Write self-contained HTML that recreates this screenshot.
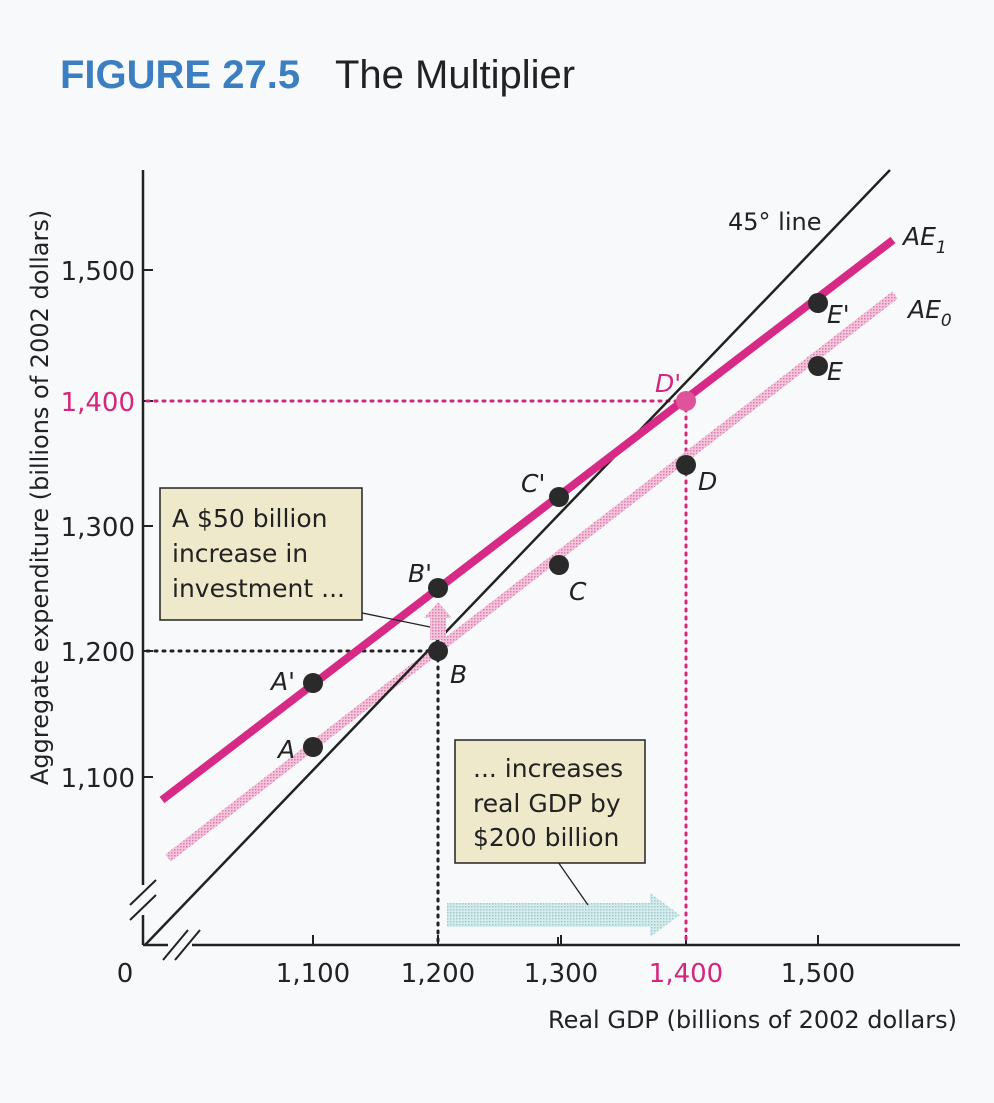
<!DOCTYPE html>
<html><head><meta charset="utf-8"><style>
html,body{margin:0;padding:0;background:#f7f9fa;}
svg{display:block;font-family:"DejaVu Sans","Liberation Sans",sans-serif;}
</style></head><body>
<svg width="994" height="1103" viewBox="0 0 994 1103" xmlns="http://www.w3.org/2000/svg">
<defs>
<pattern id="pk" width="3" height="3" patternUnits="userSpaceOnUse"><rect width="3" height="3" fill="#f3c6dc"/><rect width="1.5" height="1.5" fill="#e07ab0"/></pattern>
<pattern id="tl" width="3" height="3" patternUnits="userSpaceOnUse"><rect width="3" height="3" fill="#d6ecec"/><rect width="1.5" height="1.5" fill="#9fcccc"/></pattern>
</defs>
<rect width="994" height="1103" fill="#f7f9fa"/>
<text x="60" y="88" font-size="40" font-weight="bold" fill="#3b7fc2" font-family="Liberation Sans, sans-serif">FIGURE 27.5</text>
<text x="335" y="88" font-size="40" fill="#222" font-family="Liberation Sans, sans-serif">The Multiplier</text>

<line x1="143" y1="170" x2="143" y2="945" stroke="#222" stroke-width="2.5"/>
<line x1="143" y1="945" x2="960" y2="945" stroke="#222" stroke-width="2.5"/>
<g stroke="#222" stroke-width="2">
<line x1="143" y1="270" x2="153" y2="270"/><line x1="143" y1="401" x2="153" y2="401"/>
<line x1="143" y1="526" x2="153" y2="526"/><line x1="143" y1="651" x2="153" y2="651"/>
<line x1="143" y1="777" x2="153" y2="777"/>
<line x1="313" y1="945" x2="313" y2="935"/><line x1="438" y1="945" x2="438" y2="935"/>
<line x1="561" y1="945" x2="561" y2="935"/><line x1="686" y1="945" x2="686" y2="935"/>
<line x1="818" y1="945" x2="818" y2="935"/>
</g>
<rect x="133" y="885" width="20" height="30" fill="#f7f9fa"/>
<line x1="130" y1="905" x2="156" y2="880" stroke="#222" stroke-width="2"/>
<line x1="130" y1="920" x2="156" y2="895" stroke="#222" stroke-width="2"/>
<rect x="168" y="938" width="24" height="14" fill="#f7f9fa"/>
<line x1="163" y1="960" x2="188" y2="930" stroke="#222" stroke-width="2"/>
<line x1="175" y1="960" x2="200" y2="930" stroke="#222" stroke-width="2"/>

<g font-size="26" fill="#222">
<text x="135" y="280" text-anchor="end">1,500</text>
<text x="135" y="411" text-anchor="end" fill="#d4267f">1,400</text>
<text x="135" y="536" text-anchor="end">1,300</text>
<text x="135" y="661" text-anchor="end">1,200</text>
<text x="135" y="787" text-anchor="end">1,100</text>
<text x="125" y="982" text-anchor="middle">0</text>
<text x="313" y="982" text-anchor="middle">1,100</text>
<text x="438" y="982" text-anchor="middle">1,200</text>
<text x="561" y="982" text-anchor="middle">1,300</text>
<text x="686" y="982" text-anchor="middle" fill="#d4267f">1,400</text>
<text x="818" y="982" text-anchor="middle">1,500</text>
<text x="957" y="1028" text-anchor="end" font-size="24">Real GDP (billions of 2002 dollars)</text>
<text transform="translate(48,785) rotate(-90)" font-size="24">Aggregate expenditure (billions of 2002 dollars)</text>
</g>

<g stroke-dasharray="2,6" stroke-width="3" stroke-linecap="round">
<line x1="147" y1="651" x2="438" y2="651" stroke="#222"/>
<line x1="438" y1="651" x2="438" y2="945" stroke="#222"/>
<line x1="147" y1="401" x2="686" y2="401" stroke="#d4267f"/>
<line x1="686" y1="401" x2="686" y2="945" stroke="#d4267f"/>
</g>

<line x1="168" y1="858" x2="895" y2="295" stroke="url(#pk)" stroke-width="9"/>
<line x1="145" y1="945" x2="890" y2="170" stroke="#222" stroke-width="2.5"/>
<line x1="162" y1="800" x2="893" y2="240" stroke="#d62a86" stroke-width="8"/>

<polygon points="430,640 430,618 424,618 438,602 452,618 446,618 446,640" fill="url(#pk)"/>
<polygon points="447,903 650,903 650,893 680,915 650,937 650,927 447,927" fill="url(#tl)"/>

<line x1="338" y1="608" x2="430" y2="627" stroke="#222" stroke-width="1.3"/>
<line x1="558" y1="862" x2="588" y2="905" stroke="#222" stroke-width="1.3"/>
<line x1="558" y1="937" x2="558" y2="945" stroke="#222" stroke-width="2"/>

<rect x="160" y="488" width="202" height="132" fill="#efe9cc" stroke="#222" stroke-width="1.5"/>
<g font-size="25" fill="#222">
<text x="172" y="527">A $50 billion</text>
<text x="172" y="562">increase in</text>
<text x="172" y="597">investment ...</text>
</g>
<rect x="455" y="740" width="190" height="123" fill="#efe9cc" stroke="#222" stroke-width="1.5"/>
<g font-size="25" fill="#222">
<text x="473" y="777">... increases</text>
<text x="473" y="812">real GDP by</text>
<text x="473" y="846">$200 billion</text>
</g>

<g fill="#2a2a2a">
<circle cx="313" cy="747" r="10"/><circle cx="313" cy="683" r="10"/>
<circle cx="438" cy="651" r="10"/><circle cx="438" cy="588" r="10"/>
<circle cx="559" cy="565" r="10"/><circle cx="559" cy="497" r="10"/>
<circle cx="686" cy="465" r="10"/>
<circle cx="818" cy="366" r="10"/><circle cx="818" cy="303" r="10"/>
</g>
<circle cx="686" cy="401" r="10" fill="#e0529a"/>

<g font-size="25" fill="#222" font-style="italic">
<text x="278" y="758">A</text>
<text x="271" y="690">A'</text>
<text x="450" y="683">B</text>
<text x="408" y="582">B'</text>
<text x="569" y="600">C</text>
<text x="521" y="492">C'</text>
<text x="698" y="490">D</text>
<text x="655" y="392" fill="#d4267f">D'</text>
<text x="827" y="380">E</text>
<text x="827" y="323">E'</text>
<text x="903" y="245">AE<tspan font-size="17" dy="8">1</tspan></text>
<text x="908" y="318">AE<tspan font-size="17" dy="8">0</tspan></text>
</g>
<text x="728" y="230" font-size="24" fill="#222">45° line</text>
</svg>
</body></html>
